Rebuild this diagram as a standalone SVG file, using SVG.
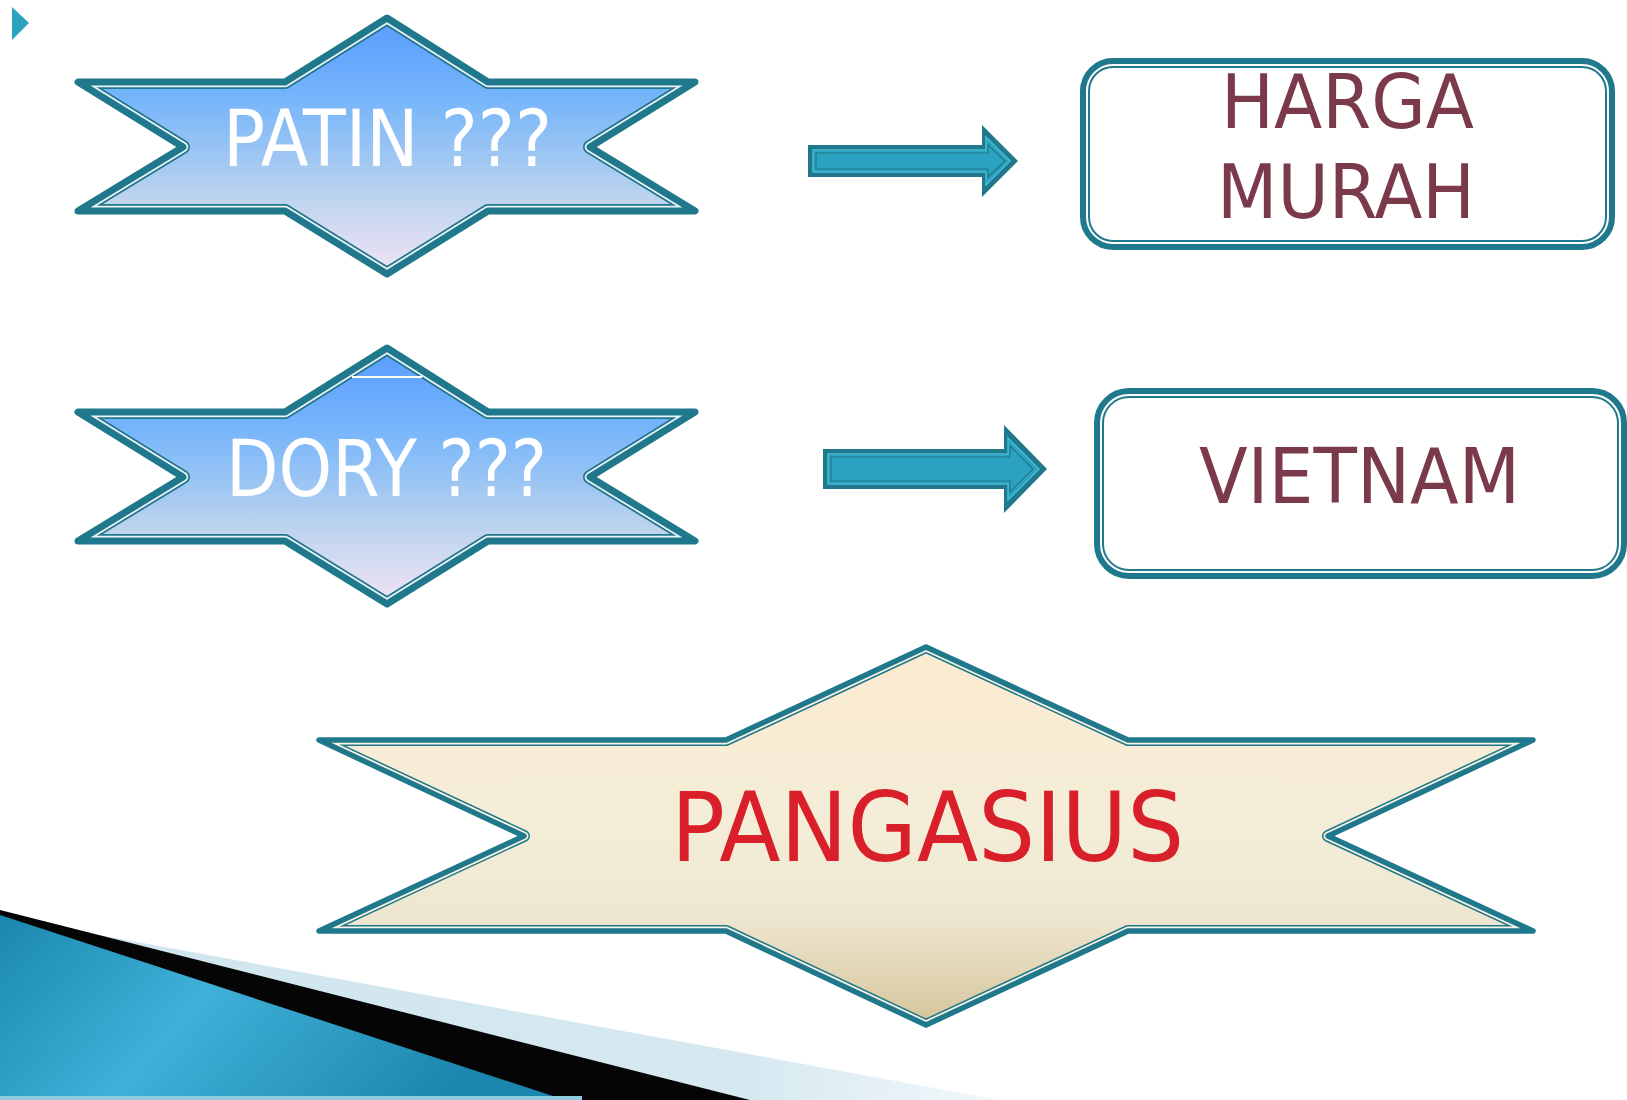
<svg xmlns="http://www.w3.org/2000/svg" width="1627" height="1100" viewBox="0 0 1627 1100">
<style>
.lbl{font-family:"DejaVu Sans","Open Sans","Liberation Sans",sans-serif;}
.teal{fill:none;stroke:#1f788b;stroke-linejoin:round;}
.inner{fill:none;stroke-linejoin:round;}
.maroon{fill:#7b3a49;}
</style>
<defs>
<linearGradient id="gBlue" x1="0" y1="0" x2="0" y2="1">
<stop offset="0" stop-color="#5a9bff"/>
<stop offset="0.3" stop-color="#74b4fb"/>
<stop offset="0.5" stop-color="#96c3f4"/>
<stop offset="0.72" stop-color="#c0d5ee"/>
<stop offset="1" stop-color="#f2e3f6"/>
</linearGradient>
<linearGradient id="gCream" x1="0" y1="0" x2="0" y2="1">
<stop offset="0" stop-color="#fcebd0"/>
<stop offset="0.5" stop-color="#f3edd8"/>
<stop offset="0.72" stop-color="#eee6cf"/>
<stop offset="1" stop-color="#d5c49b"/>
</linearGradient>
<linearGradient id="gDeco" x1="0" y1="0" x2="1" y2="0.3">
<stop offset="0" stop-color="#1a88ae"/>
<stop offset="0.45" stop-color="#3fb0d8"/>
<stop offset="1" stop-color="#1b86ad"/>
</linearGradient>
<linearGradient id="gLight" x1="0" y1="0" x2="1" y2="0">
<stop offset="0" stop-color="#cfe5ef"/>
<stop offset="0.75" stop-color="#d6e9f1"/>
<stop offset="1" stop-color="#f3f8fa"/>
</linearGradient>
<path id="smallStar" d="M387,18 L488,82 L695,82 L590,147 L695,211 L488,211 L387,274 L285,211 L78,211 L183,147 L78,82 L285,82 Z"/>
<path id="bigStar" d="M926,647 L1128,740 L1533,740 L1328,836 L1533,931 L1128,931 L926,1025 L726,931 L319,931 L524,836 L319,740 L726,740 Z"/>
<clipPath id="cSmall"><use href="#smallStar"/></clipPath>
<clipPath id="cBig"><use href="#bigStar"/></clipPath>
<clipPath id="cBox1"><rect x="1083" y="61" width="529" height="186" rx="30"/></clipPath>
<clipPath id="cBox2"><rect x="1097" y="391" width="527" height="185" rx="32"/></clipPath>
</defs>

<rect width="1627" height="1100" fill="#ffffff"/>

<g id="decoration">
<polygon points="0,917 1000,1100 0,1100" fill="url(#gLight)"/>
<polygon points="0,910 750,1100 0,1100" fill="#050505"/>
<polygon points="0,915 565,1100 0,1100" fill="url(#gDeco)"/>
<rect x="0" y="1096" width="582" height="4" fill="#8fcbe0"/>
</g>

<g id="bullet">
<polygon points="12,7 12,40 29,23" fill="#2ba3bf"/>
</g>

<g id="patin">
<use href="#smallStar" fill="url(#gBlue)"/>
<use href="#smallStar" class="inner" stroke="#1f788b" stroke-width="14" clip-path="url(#cSmall)"/>
<use href="#smallStar" class="inner" stroke="#eef3fb" stroke-width="10.5" clip-path="url(#cSmall)"/>
<use href="#smallStar" class="teal" stroke-width="7"/>
<text class="lbl" x="223" y="166" font-size="78" fill="#ffffff" textLength="329" lengthAdjust="spacingAndGlyphs">PATIN ???</text>
</g>

<g id="dory" transform="translate(0,330)">
<use href="#smallStar" fill="url(#gBlue)"/>
<use href="#smallStar" class="inner" stroke="#1f788b" stroke-width="14" clip-path="url(#cSmall)"/>
<use href="#smallStar" class="inner" stroke="#eef3fb" stroke-width="10.5" clip-path="url(#cSmall)"/>
<use href="#smallStar" class="teal" stroke-width="7"/>
<line x1="352" y1="47" x2="422" y2="47" stroke="#ffffff" stroke-width="2"/>
<text class="lbl" x="226" y="166" font-size="78" fill="#ffffff" textLength="321" lengthAdjust="spacingAndGlyphs">DORY ???</text>
</g>

<g id="harga">
<rect x="1083" y="61" width="529" height="186" rx="30" fill="#ffffff"/>
<rect x="1083" y="61" width="529" height="186" rx="30" class="teal" stroke-width="14" clip-path="url(#cBox1)"/>
<rect x="1083" y="61" width="529" height="186" rx="30" fill="none" stroke="#ffffff" stroke-width="10" clip-path="url(#cBox1)"/>
<rect x="1083" y="61" width="529" height="186" rx="30" class="teal" stroke-width="6"/>
<text class="lbl maroon" x="1221" y="128" font-size="75" textLength="253" lengthAdjust="spacingAndGlyphs">HARGA</text>
<text class="lbl maroon" x="1217" y="218" font-size="75" textLength="258" lengthAdjust="spacingAndGlyphs">MURAH</text>
</g>

<g id="vietnam">
<rect x="1097" y="391" width="527" height="185" rx="32" fill="#ffffff"/>
<rect x="1097" y="391" width="527" height="185" rx="32" class="teal" stroke-width="14" clip-path="url(#cBox2)"/>
<rect x="1097" y="391" width="527" height="185" rx="32" fill="none" stroke="#ffffff" stroke-width="10" clip-path="url(#cBox2)"/>
<rect x="1097" y="391" width="527" height="185" rx="32" class="teal" stroke-width="6"/>
<text class="lbl maroon" x="1199" y="503" font-size="76" textLength="321" lengthAdjust="spacingAndGlyphs">VIETNAM</text>
</g>

<g id="pangasius">
<use href="#bigStar" fill="url(#gCream)"/>
<use href="#bigStar" class="inner" stroke="#1f788b" stroke-width="12" clip-path="url(#cBig)"/>
<use href="#bigStar" class="inner" stroke="#f8f3e4" stroke-width="9" clip-path="url(#cBig)"/>
<use href="#bigStar" class="teal" stroke-width="5.5"/>
<text class="lbl" x="671" y="861" font-size="96" fill="#d81f2a" textLength="513" lengthAdjust="spacingAndGlyphs">PANGASIUS</text>
</g>

<g id="connectors">
<g id="arrow1">
<polygon points="808,145 982,145 982,125 1018,161 982,197 982,177 808,177" fill="#1f788b"/>
<polygon points="813,150 986,150 986,137 1010,161 986,185 986,172 813,172" fill="#2ba2bf" stroke="#46b9d3" stroke-width="1.5"/>
<polygon points="816,153 988,153 988,145 1005,161 988,177 988,169 816,169" fill="none" stroke="#1f788b" stroke-width="1.2"/>
</g>
<g id="arrow2">
<polygon points="823,449 1004,449 1004,425 1047,469 1004,513 1004,489 823,489" fill="#1f788b"/>
<polygon points="828,454 1008,454 1008,438 1039,469 1008,500 1008,484 828,484" fill="#2ba2bf" stroke="#46b9d3" stroke-width="1.5"/>
<polygon points="831,457 1010,457 1010,446 1033,469 1010,492 1010,481 831,481" fill="none" stroke="#1f788b" stroke-width="1.2"/>
</g>
</g>
</svg>
